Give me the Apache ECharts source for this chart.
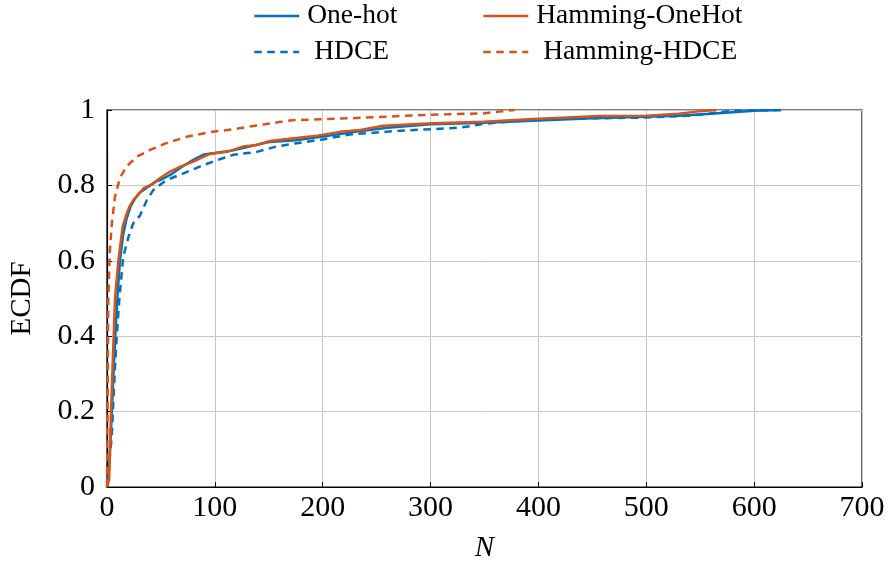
<!DOCTYPE html>
<html><head><meta charset="utf-8">
<script src="https://cdn.jsdelivr.net/npm/echarts@6/dist/echarts.min.js"></script>
<style>html,body{margin:0;padding:0;background:#fff}#c{width:888px;height:567px}</style>
</head><body><div id="c"></div>
<script>
const xTicks = [0,100,200,300,400,500,600,700];
const yTicks = [0,0.2,0.4,0.6,0.8,1];

const oneHotN = [0,1,2,4,6,8,10,12,15,18,22,26,30,35,40,45,50,60,70,80,90,100,115,130,150,175,200,230,260,300,350,400,450,500,530,560,600,625];
const oneHotE = [0,0,0.05,0.17,0.3,0.42,0.52,0.6,0.67,0.71,0.745,0.765,0.78,0.79,0.8,0.81,0.815,0.83,0.85,0.868,0.882,0.886,0.892,0.902,0.915,0.92,0.93,0.942,0.953,0.962,0.966,0.972,0.978,0.982,0.985,0.99,0.998,1];

const hamOneHotN = [0,1,2,3.7,5.3,7.4,10.5,14.5,17.6,21,24.4,29,33.7,43,49,58,68,80,95,111,126,139,151,173,195,216,235,256,302,349,395,457,500,530,550,565];
const hamOneHotE = [0,0,0.02,0.196,0.33,0.5,0.6,0.69,0.72,0.745,0.761,0.775,0.792,0.805,0.819,0.836,0.85,0.863,0.883,0.889,0.903,0.907,0.918,0.925,0.932,0.942,0.947,0.958,0.965,0.969,0.976,0.984,0.985,0.99,0.997,1];

const hdceN = [0,1,4.4,6.5,9,11.5,15,20,24.4,30.6,37,43,55,71,86,102,117,139,157,176,200,225,272,327,349,380,426,500,540,559,580,627];
const hdceE = [0,0,0.133,0.266,0.4,0.5,0.61,0.664,0.70,0.72,0.761,0.788,0.814,0.832,0.85,0.867,0.881,0.889,0.903,0.912,0.922,0.935,0.945,0.953,0.963,0.971,0.977,0.980,0.985,0.991,0.998,1];

const hamHdceN = [0,0.5,1.2,2.5,4.5,7.4,12,18,27.5,40,55,74,95,117,148,172,225,272,318,349,364,378];
const hamHdceE = [0,0.2,0.496,0.62,0.7,0.77,0.82,0.85,0.876,0.894,0.912,0.929,0.941,0.949,0.963,0.973,0.978,0.984,0.989,0.991,0.996,1];

const BLUE = '#0072BD', ORANGE = '#D95319';
const FONT = 'Liberation Serif';
const zip = (a,b) => a.map((v,i)=>[v,b[i]]);

function mkSeries(name, N, E, color, type){
  return {name, type:'line', data: zip(N,E), showSymbol:false, symbol:'none',
    lineStyle:{color, width:2.5, type: type==='dashed'?[7.5,5.5]:'solid'}, itemStyle:{color},
    z: 3, animation:false};
}
function mkLegend(name, left, top, gap){
  return {data:[name], left, top, itemWidth:45, itemHeight:14, itemGap:0,
    itemStyle:{opacity:0}, lineStyle:{width:2.5},
    textStyle:{fontFamily:FONT, fontSize:27.5, color:'#000', padding:[0,0,0,gap]}, padding:0};
}
const chart = echarts.init(document.getElementById('c'));
chart.setOption({
  animation:false,
  backgroundColor:'#fff',
  legend:[
    mkLegend('One-hot', 253, 2, 3),
    mkLegend('HDCE', 253, 38, 10),
    mkLegend('Hamming-OneHot', 482, 2, 3),
    mkLegend('Hamming-HDCE', 482, 38, 10)
  ],
  grid:{left:107, right:26, top:110, bottom:80, show:true, borderColor:'#000', borderWidth:1.2,
    containLabel:false, outerBoundsMode:'none'},
  xAxis:{type:'value', min:0, max:700, interval:100,
    name:'N', nameLocation:'middle', nameGap:47,
    nameTextStyle:{fontFamily:FONT, fontSize:29, fontStyle:'italic', color:'#000'},
    axisLine:{show:true, lineStyle:{color:'#000', width:1.2}},
    axisTick:{show:true, inside:true, length:5, lineStyle:{color:'#000'}},
    axisLabel:{fontFamily:FONT, fontSize:30, color:'#000', margin:6},
    splitLine:{show:true, lineStyle:{color:'#c8c8c8', width:1}}},
  yAxis:{type:'value', min:0, max:1, interval:0.2,
    name:'ECDF', nameLocation:'middle', nameGap:70,
    nameTextStyle:{fontFamily:FONT, fontSize:29, color:'#000'},
    axisLine:{show:true, lineStyle:{color:'#000', width:1.2}},
    axisTick:{show:true, inside:true, length:5, lineStyle:{color:'#000'}},
    axisLabel:{fontFamily:FONT, fontSize:30, color:'#000', margin:12,
      formatter: v => String(Math.round(v*10)/10)},
    splitLine:{show:true, lineStyle:{color:'#c8c8c8', width:1}}},
  series:[
    mkSeries('One-hot', oneHotN, oneHotE, BLUE, 'solid'),
    mkSeries('HDCE', hdceN, hdceE, BLUE, 'dashed'),
    mkSeries('Hamming-OneHot', hamOneHotN, hamOneHotE, ORANGE, 'solid'),
    mkSeries('Hamming-HDCE', hamHdceN, hamHdceE, ORANGE, 'dashed')
  ]
});
</script></body></html>
